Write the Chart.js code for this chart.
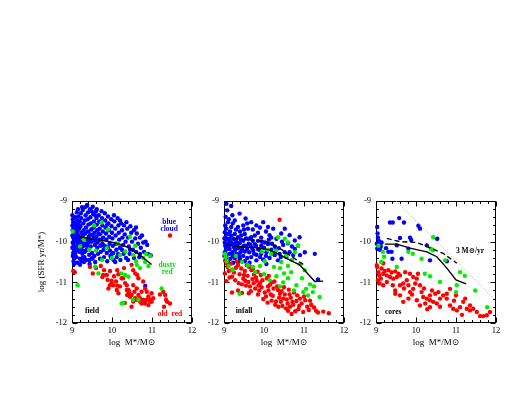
<!DOCTYPE html>
<html><head><meta charset="utf-8">
<script src="https://cdn.jsdelivr.net/npm/chart.js@4"></script>
<style>
html,body{margin:0;padding:0;background:#fff;width:509px;height:393px;overflow:hidden}
canvas{position:absolute}
</style></head>
<body>
<canvas id="c1" width="200" height="170" style="left:0px;top:190px"></canvas>
<canvas id="c2" width="170" height="170" style="left:184px;top:190px"></canvas>
<canvas id="c3" width="170" height="170" style="left:336px;top:190px"></canvas>
<script>
// ---------- tick labels / axes ----------
const xTicks = [9, 10, 11, 12];
const yTicks = [-9, -10, -11, -12];
const xTitle = 'log  M*/M\u2299';
const yTitle = 'log (SFR yr/M*)';

// ---------- FIELD panel ----------
const fieldBlue = [
[9.01,-9.35],[9.02,-9.45],[9.03,-9.52],[9.01,-9.6],[9.04,-9.65],[9.02,-9.72],[9.05,-9.78],[9.01,-9.85],[9.03,-9.9],[9.06,-9.95],
[9.02,-10.02],[9.04,-10.08],[9.01,-10.15],[9.05,-10.2],[9.03,-10.28],[9.02,-10.35],[9.06,-10.4],[9.04,-10.48],[9.08,-9.4],[9.09,-9.55],
[9.07,-9.7],[9.1,-9.8],[9.08,-9.88],[9.09,-10.0],[9.07,-10.12],[9.1,-10.22],[9.08,-10.3],[9.12,-9.28],[9.13,-9.48],[9.11,-9.62],
[9.14,-9.75],[9.12,-9.92],[9.15,-10.05],[9.13,-10.18],[9.11,-10.38],[9.14,-10.52],[9.16,-9.38],[9.17,-9.58],[9.18,-9.68],[9.16,-9.85],
[9.19,-9.98],[9.17,-10.1],[9.18,-10.25],[9.2,-10.42],[9.19,-9.5],[9.22,-9.3],[9.23,-9.42],[9.21,-9.62],[9.24,-9.78],[9.22,-9.9],
[9.25,-10.02],[9.23,-10.15],[9.26,-10.3],[9.24,-10.48],[9.27,-9.22],[9.28,-9.55],[9.29,-9.72],[9.27,-9.85],[9.3,-10.1],[9.28,-10.22],
[9.31,-10.38],[9.33,-9.15],[9.34,-9.35],[9.32,-9.48],[9.35,-9.65],[9.33,-9.8],[9.36,-9.95],[9.34,-10.05],[9.37,-10.2],[9.35,-10.45],
[9.38,-9.1],[9.4,-9.28],[9.39,-9.45],[9.41,-9.58],[9.4,-9.75],[9.42,-9.88],[9.41,-10.02],[9.43,-10.32],[9.44,-10.55],[9.45,-9.2],
[9.46,-9.4],[9.47,-9.55],[9.48,-9.7],[9.46,-9.82],[9.49,-10.0],[9.47,-10.12],[9.5,-10.28],[9.49,-10.42],[9.52,-9.14],[9.53,-9.32],
[9.55,-9.5],[9.54,-9.65],[9.56,-9.78],[9.55,-9.92],[9.57,-10.08],[9.56,-10.35],[9.58,-10.5],[9.6,-9.25],[9.61,-9.42],[9.62,-9.58],
[9.63,-9.72],[9.61,-9.88],[9.64,-10.02],[9.63,-10.15],[9.65,-10.3],[9.62,-9.2],[9.67,-9.35],[9.68,-9.5],[9.69,-9.68],[9.7,-9.82],
[9.68,-9.95],[9.71,-10.1],[9.72,-10.25],[9.7,-10.42],[9.74,-9.25],[9.75,-9.42],[9.76,-9.6],[9.77,-9.75],[9.78,-9.9],[9.76,-10.05],
[9.79,-10.2],[9.8,-10.38],[9.82,-9.3],[9.83,-9.48],[9.84,-9.65],[9.85,-9.8],[9.86,-9.95],[9.84,-10.12],[9.87,-10.28],[9.88,-10.48],
[9.9,-9.38],[9.91,-9.55],[9.92,-9.72],[9.93,-9.88],[9.94,-10.05],[9.95,-10.22],[9.96,-10.35],[9.98,-9.45],[9.99,-9.62],[10.0,-9.78],
[10.01,-9.92],[10.02,-10.1],[10.03,-10.28],[10.04,-10.45],[10.06,-9.5],[10.08,-9.68],[10.09,-9.85],[10.1,-10.05],[10.11,-10.2],[10.12,-10.38],
[10.14,-9.42],[10.16,-9.6],[10.17,-9.78],[10.18,-9.95],[10.2,-10.15],[10.21,-10.45],[10.23,-9.55],[10.25,-9.72],[10.26,-9.9],[10.28,-10.08],
[10.29,-10.3],[10.3,-9.6],[10.32,-9.82],[10.34,-10.0],[10.35,-10.4],[10.38,-9.68],[10.4,-9.9],[10.42,-10.12],[10.44,-10.3],[10.46,-9.62],
[10.48,-9.78],[10.5,-10.0],[10.52,-10.2],[10.55,-9.72],[10.58,-9.92],[10.6,-10.25],[10.62,-9.8],[10.65,-10.05],[10.68,-10.38],[10.7,-9.9],
[10.72,-10.15],[10.75,-9.85],[10.78,-10.02],[10.8,-10.25],[10.84,-10.0],[10.88,-10.08],[10.9,-10.3],[10.97,-10.34],[10.83,-11.09],[10.6,-9.65],
[9.05,-10.55],[9.2,-10.57],[9.43,-10.45],[9.52,-10.4],[9.3,-10.5],[9.98,-10.4],[10.08,-10.5],[10.4,-10.45],[10.55,-10.4],[10.7,-10.3],
[9.15,-9.2],[9.25,-9.15],[9.37,-9.12],[9.49,-9.25],[9.58,-9.35],[9.72,-9.52],[9.88,-9.58],[10.05,-9.35],[10.2,-9.48],[10.36,-9.52],
[9.06,-9.58],[9.09,-9.68],[9.12,-9.82],[9.15,-9.95],[9.18,-10.08],[9.21,-10.2],[9.27,-10.4],[9.32,-10.25],[9.38,-10.1],[9.45,-9.95],
[9.51,-9.85],[9.58,-9.98],[9.66,-9.8],[9.73,-9.95],[9.8,-10.1],[9.9,-10.15],[10.0,-10.3],[10.15,-10.3],[10.25,-10.2],[10.45,-10.2]
];
const fieldGreen = [
[9.02,-9.75],[9.74,-9.53],[9.43,-10.2],[9.6,-10.22],[9.87,-10.16],[10.2,-10.33],[10.45,-9.88],[10.33,-10.24],[10.53,-10.33],[10.62,-10.57],
[10.7,-10.65],[10.83,-10.5],[10.78,-10.4],[10.91,-10.6],[10.33,-10.82],[10.41,-10.86],[10.24,-11.52],[10.52,-11.43],[9.14,-11.07],[9.66,-10.78],
[11.24,-11.15],[9.3,-9.95],[9.55,-9.6],[10.0,-10.4],[10.15,-10.05],[9.75,-10.45],[10.58,-10.1],[10.95,-10.35],[10.24,-10.78],[10.66,-11.43],
[9.58,-10.61],[10.28,-11.51],[9.2,-10.12],[9.9,-9.7],[10.6,-10.48],[10.85,-10.3]
];
const fieldRed = [
[9.03,-10.72],[9.07,-10.75],[9.52,-10.78],[9.72,-10.6],[9.76,-10.87],[9.87,-10.82],[9.89,-10.94],[9.99,-10.96],[10.03,-11.07],[9.95,-11.07],
[10.1,-10.98],[10.13,-11.08],[10.2,-11.1],[10.13,-10.7],[10.16,-10.8],[10.24,-10.9],[10.28,-10.9],[10.33,-11.02],[10.37,-11.07],[10.41,-11.19],
[10.43,-11.23],[10.38,-11.31],[10.45,-11.35],[10.53,-11.07],[10.56,-11.23],[10.62,-11.15],[10.66,-11.31],[10.7,-11.39],[10.74,-11.23],[10.49,-10.57],
[10.53,-10.7],[10.58,-10.78],[10.63,-10.82],[10.66,-10.9],[10.78,-10.98],[10.83,-11.15],[10.87,-11.23],[10.91,-11.35],[10.95,-11.43],[10.99,-11.48],
[11.03,-11.39],[10.99,-11.27],[10.78,-11.43],[10.83,-11.52],[10.74,-11.52],[10.49,-11.31],[10.58,-11.39],[10.62,-11.43],[11.28,-11.23],[11.33,-11.31],
[11.35,-11.43],[11.38,-11.48],[11.45,-11.52],[11.45,-9.85],[9.78,-10.82],[9.99,-11.02],[9.91,-11.15],[10.12,-11.19],[10.16,-11.27],[10.37,-11.19],
[10.41,-11.27],[10.45,-11.35],[10.53,-11.47],[10.62,-11.43],[10.7,-11.47],[10.87,-11.43],[10.82,-11.51],[10.91,-11.56],[10.95,-11.47],[10.32,-11.51],
[10.49,-11.6],[9.6,-10.65],[9.8,-10.7],[9.95,-10.72],[9.45,-10.62],[10.05,-10.85],[10.3,-10.65],[11.3,-11.6],[11.2,-11.3]
];
const fieldSolidX = [9.2, 9.6, 9.95, 10.2, 10.45, 10.7, 10.99];
const fieldSolidY = [-9.88, -9.95, -10.0, -10.07, -10.16, -10.33, -10.56];

// ---------- INFALL panel ----------
const infallBlue = [
[9.06,-9.07],[9.18,-9.12],[9.08,-9.23],[9.21,-9.35],[9.04,-9.39],[9.39,-9.31],[9.27,-9.48],[9.1,-9.52],[9.54,-9.43],[9.68,-9.52],
[9.81,-9.6],[9.6,-9.68],[9.48,-9.6],[9.35,-9.64],[9.18,-9.64],[9.06,-9.68],[9.98,-9.52],[10.1,-9.64],[10.23,-9.68],[10.52,-9.68],
[10.43,-9.8],[10.64,-9.84],[10.89,-9.89],[10.77,-9.97],[10.14,-9.84],[10.31,-9.93],[11.27,-10.3],[11.35,-10.93],
[9.02,-9.77],[9.1,-9.81],[9.18,-9.85],[9.27,-9.81],[9.04,-9.89],[9.13,-9.93],[9.23,-9.93],[9.35,-9.89],[9.43,-9.85],[9.52,-9.81],
[9.02,-10.02],[9.1,-10.06],[9.18,-10.02],[9.31,-10.0],[9.39,-10.04],[9.48,-9.98],[9.6,-9.93],[9.68,-9.89],[9.77,-9.85],[9.06,-10.14],
[9.14,-10.18],[9.25,-10.14],[9.35,-10.16],[9.46,-10.14],[9.56,-10.1],[9.66,-10.08],[9.77,-10.06],[9.85,-9.98],[9.93,-9.9],[9.02,-10.26],
[9.13,-10.3],[9.21,-10.26],[9.31,-10.3],[9.41,-10.26],[9.52,-10.24],[9.63,-10.26],[9.73,-10.22],[9.85,-10.18],[9.93,-10.1],[10.02,-10.02],
[10.1,-10.06],[9.06,-10.38],[9.16,-10.42],[9.27,-10.4],[9.38,-10.38],[9.48,-10.35],[9.58,-10.4],[9.68,-10.38],[9.81,-10.32],[9.93,-10.3],
[10.06,-10.26],[10.18,-10.2],[10.27,-10.12],[10.37,-10.16],[10.48,-10.08],[10.6,-10.04],[10.7,-10.12],[9.1,-10.5],[9.23,-10.52],[9.35,-10.5],
[9.52,-10.48],[9.64,-10.52],[9.81,-10.46],[9.98,-10.44],[10.14,-10.4],[10.27,-10.33],[10.39,-10.3],[10.52,-10.26],[10.64,-10.26],[10.77,-10.18],
[10.85,-10.1],[11.02,-10.26],[10.06,-10.55],[10.35,-10.46],[10.56,-10.38],[10.73,-10.33],[10.9,-10.33],
[9.01,-9.92],[9.03,-10.1],[9.01,-10.35],[9.05,-10.2],[9.08,-9.95],[9.12,-10.1],[9.15,-9.75],[9.2,-10.07],[9.22,-10.35],[9.28,-10.2],
[9.3,-9.95],[9.33,-10.08],[9.37,-10.33],[9.42,-9.95],[9.45,-10.2],[9.5,-10.1],[9.55,-9.92],[9.58,-10.18],[9.62,-10.05],[9.7,-10.15],
[9.72,-9.98],[9.75,-10.3],[9.8,-10.1],[9.88,-10.2],[9.9,-10.38],[9.95,-10.0],[10.0,-10.15],[10.05,-10.35],[10.12,-9.95],[10.2,-10.05],
[10.22,-10.3],[10.3,-10.2],[10.42,-10.38],[10.45,-10.0],[9.03,-9.6],[9.12,-9.45],[9.22,-9.55],[9.3,-9.7],[9.4,-9.75],[9.5,-9.7],
[9.58,-9.55],[9.72,-9.7],[9.85,-9.78],[9.9,-9.65],[10.05,-9.75],[10.18,-9.9],[9.04,-10.45],[9.14,-9.98],[9.26,-10.05],[9.4,-10.42]
];
const infallGreen = [
[9.02,-10.3],[9.04,-10.38],[9.07,-10.48],[9.22,-10.7],[9.39,-11.28],[9.6,-10.58],[9.72,-10.62],[9.9,-10.6],[10.02,-10.48],[10.18,-10.3],
[10.3,-10.22],[10.35,-9.89],[10.52,-9.93],[10.6,-10.02],[10.85,-10.1],[10.77,-10.26],[10.43,-10.5],[10.6,-10.6],[10.68,-10.75],[10.6,-10.9],
[10.81,-11.07],[10.98,-11.24],[11.1,-11.32],[11.39,-11.36],[11.22,-11.24],[11.05,-11.16],[10.31,-10.85],[10.48,-11.0],[10.14,-10.95],[10.9,-10.55],
[11.02,-10.7],[10.25,-10.62],[10.5,-10.78],[10.7,-10.45],[9.45,-10.5],[9.78,-10.75],[10.0,-10.8],[10.4,-11.1],[10.75,-11.2],[10.95,-10.9],
[11.15,-11.05],[10.1,-10.2],[9.95,-10.25],[10.55,-10.35],[9.3,-10.35],[9.12,-10.6],[10.4,-10.65],[11.25,-11.1]
];
const infallRed = [
[9.03,-10.47],[9.21,-10.69],[9.09,-10.62],[9.35,-10.58],[9.14,-10.88],[9.02,-10.78],[9.28,-10.95],[9.17,-10.54],[9.39,-10.8],[9.06,-10.97],
[9.25,-10.76],[9.32,-10.49],[9.12,-10.72],[9.37,-11.02],[9.2,-10.86],
[9.43,-10.66],[9.71,-10.92],[9.55,-11.08],[9.84,-10.74],[9.48,-10.91],[9.63,-10.62],[9.78,-11.15],[9.59,-10.84],[9.9,-11.02],[9.52,-10.72],
[9.67,-11.22],[9.75,-10.81],[9.45,-11.05],[9.82,-10.96],[9.61,-10.99],[9.88,-11.2],[9.69,-10.7],[9.57,-10.58],[9.8,-10.88],[9.65,-11.1],
[9.73,-10.65],[9.86,-11.08],[9.5,-10.82],
[9.94,-11.12],[10.22,-11.33],[10.07,-10.9],[10.35,-11.19],[9.98,-11.41],[10.15,-11.06],[10.3,-11.47],[10.02,-11.25],[10.26,-10.98],[10.38,-11.38],
[10.11,-11.2],[10.19,-11.45],[9.96,-10.95],[10.33,-11.1],[10.05,-11.35],[10.24,-11.15],[10.12,-10.84],[10.4,-11.28],[10.17,-11.3],[10.28,-11.55],
[10.09,-11.5],
[10.44,-11.22],[10.71,-11.48],[10.55,-11.64],[10.83,-11.32],[10.48,-11.4],[10.62,-11.18],[10.78,-11.71],[10.59,-11.52],[10.88,-11.58],[10.52,-11.3],
[10.67,-11.38],[10.75,-11.25],[10.46,-11.58],[10.81,-11.46],[10.6,-11.7],[10.86,-11.66],[10.65,-11.6],[10.5,-11.12],[10.73,-11.55],[10.42,-11.48],
[10.57,-11.42],[10.69,-11.78],
[10.94,-11.52],[11.12,-11.68],[11.03,-11.44],[11.25,-11.62],[10.98,-11.73],[11.18,-11.55],[11.35,-11.74],[11.08,-11.6],[11.48,-11.72],[11.62,-11.76],
[11.3,-11.7],[11.0,-11.35],
[10.39,-9.46],[9.2,-11.25],[9.45,-11.26],[9.62,-11.27],[9.35,-11.2],[9.08,-10.55],[9.3,-10.64],[9.74,-11.02],[9.92,-10.82],[10.2,-11.0],
[10.36,-11.6],[10.1,-11.1],[9.53,-10.96],[9.85,-11.3],[10.64,-11.3],[10.9,-11.4],[11.15,-11.45]
];
const infallSolidX = [9.04, 9.39, 9.89, 10.14, 10.39, 10.64, 10.89, 11.27, 11.48];
const infallSolidY = [-10.08, -10.12, -10.16, -10.2, -10.32, -10.45, -10.57, -10.98, -10.97];
const infallDashX = [9.23, 9.6, 9.98, 10.2, 10.39, 10.64, 10.98];
const infallDashY = [-9.92, -9.95, -9.98, -10.05, -10.16, -10.33, -10.56];

// ---------- CORES panel ----------
const coresBlue = [
[9.03,-9.64],[9.05,-9.9],[9.07,-9.98],[9.1,-10.06],[9.14,-10.02],[9.03,-10.17],[9.1,-10.2],[9.25,-10.16],[9.35,-9.53],[9.42,-9.53],
[9.58,-9.42],[9.7,-9.53],[9.6,-9.91],[9.52,-10.09],[9.41,-10.42],[9.39,-10.25],[9.31,-10.25],[9.85,-9.9],[9.88,-9.96],[9.81,-10.17],
[9.64,-10.42],[10.06,-9.61],[10.1,-9.68],[10.27,-10.09],[10.53,-9.93],[10.35,-10.46],[10.77,-10.48],[9.02,-10.05],[9.04,-9.8],[9.12,-10.12]
];
const coresGreen = [
[9.17,-10.25],[9.2,-10.37],[9.13,-10.5],[9.52,-10.62],[9.81,-10.25],[9.92,-10.3],[10.14,-10.42],[10.37,-10.17],[10.42,-10.21],[10.43,-9.89],
[10.73,-10.46],[11.1,-10.75],[11.22,-10.84],[11.02,-11.07],[11.0,-11.24],[10.6,-10.99],[10.22,-10.79],[10.35,-10.85],[11.48,-11.2],[11.78,-11.61],
[9.06,-10.1]
];
const coresRed = [
[9.03,-10.62],[9.06,-10.75],[9.08,-10.83],[9.12,-10.91],[9.18,-10.79],[9.27,-10.83],[9.35,-10.87],[9.43,-10.91],[9.52,-10.87],[9.6,-10.83],
[9.08,-11.03],[9.18,-11.07],[9.27,-10.99],[9.42,-11.07],[9.48,-11.2],[9.6,-11.07],[9.68,-11.03],[9.77,-10.95],[9.81,-11.07],[9.85,-11.24],
[9.93,-11.16],[9.98,-11.03],[10.02,-10.91],[10.1,-11.07],[10.14,-11.24],[10.18,-11.36],[10.27,-11.4],[10.35,-11.44],[10.43,-11.48],[10.52,-11.52],
[10.6,-11.4],[10.68,-11.32],[10.77,-11.4],[10.85,-11.57],[10.93,-11.65],[11.02,-11.69],[11.1,-11.61],[11.18,-11.48],[11.27,-11.65],[11.35,-11.69],
[11.43,-11.65],[11.52,-11.73],[11.6,-11.83],[11.68,-11.83],[11.77,-11.81],[11.85,-11.73],[9.68,-11.48],[9.6,-11.32],[9.48,-11.28],[9.81,-11.4],
[10.02,-11.44],[10.1,-11.57],[10.23,-11.52],[10.35,-11.32],[10.48,-11.28],[10.56,-11.24],[10.77,-11.28],[10.85,-11.16],[11.0,-11.32],[11.23,-11.4],
[11.35,-11.57],[10.35,-11.61],[10.28,-11.66],[9.02,-10.58],[9.14,-10.66],[9.22,-10.72],[9.31,-10.7],[9.39,-10.76],[9.48,-10.73],[9.56,-10.79],
[9.73,-10.75],[9.85,-10.79],[9.93,-10.87],[10.05,-10.79],[9.18,-10.53],[9.05,-10.95],[9.7,-11.15],[9.9,-11.3],[10.2,-11.15],[10.4,-11.2],
[10.6,-11.6],[10.95,-11.45],[11.15,-11.8]
];
const coresSolidX = [9.22, 9.52, 9.85, 10.27, 10.52, 10.77, 11.0, 11.25];
const coresSolidY = [-10.06, -10.06, -10.16, -10.25, -10.37, -10.65, -10.94, -11.04];
const coresDashX = [9.27, 9.6, 10.02, 10.35, 10.68, 11.02];
const coresDashY = [-9.92, -10.0, -10.02, -10.15, -10.29, -10.53];
const coresDotX = [9.5, 12.0];
const coresDotY = [-9.0, -11.45];

// ---------- annotation texts ----------
const fieldNotes = [
  {text:'blue', x:11.43, y:-9.51, color:'#0000ff'},
  {text:'cloud', x:11.43, y:-9.70, color:'#0000ff'},
  {text:'dusty', x:11.38, y:-10.57, color:'#00e000'},
  {text:'red', x:11.38, y:-10.75, color:'#00e000'},
  {text:'old  red', x:11.45, y:-11.78, color:'#ff0000'},
  {text:'field', x:9.5, y:-11.7, color:'#000'}
];
const infallNotes = [{text:'infall', x:9.5, y:-11.7, color:'#000'}];
const coresNotes = [
  {text:'cores', x:9.43, y:-11.72, color:'#000'},
  {text:'3 M\u2299/yr', x:11.35, y:-10.23, color:'#000'}
];

// ---------- helpers ----------
const FONT = "'Liberation Serif', 'DejaVu Serif', serif";
const pts = a => a.map(p => ({x:p[0], y:p[1]}));
const line = (xs, ys) => xs.map((x, i) => ({x, y: ys[i]}));

const framePlugin = {
  id:'frame',
  beforeDatasetsDraw(chart) {
    const {ctx, chartArea:a, scales:{x, y}} = chart;
    ctx.save();
    ctx.strokeStyle = '#000';
    ctx.lineWidth = 1;
    const L = Math.round(a.left) + 0.5, R = Math.round(a.right) - 0.5;
    const T = Math.round(a.top) + 0.5, B = Math.round(a.bottom) - 0.5;
    ctx.strokeRect(L, T, R - L, B - T);
    ctx.beginPath();
    for (let i = 0; i <= 15; i++) {
      const v = 9 + i * 0.2;
      const px = Math.round(x.getPixelForValue(v)) + 0.5;
      const len = (i % 5 === 0) ? 5 : 2.5;
      ctx.moveTo(px, B); ctx.lineTo(px, B - len);
      ctx.moveTo(px, T); ctx.lineTo(px, T + len);
    }
    for (let i = 0; i <= 15; i++) {
      const v = -12 + i * 0.2;
      const py = Math.round(y.getPixelForValue(v)) + 0.5;
      const len = (i % 5 === 0) ? 5 : 2.5;
      ctx.moveTo(L, py); ctx.lineTo(L + len, py);
      ctx.moveTo(R, py); ctx.lineTo(R - len, py);
    }
    ctx.stroke();
    ctx.restore();
  }
};

const notesPlugin = {
  id:'notes',
  afterDatasetsDraw(chart, args, opts) {
    const {ctx, scales:{x, y}} = chart;
    ctx.save();
    ctx.font = "bold 7.5px " + FONT;
    ctx.textAlign = 'center';
    ctx.textBaseline = 'middle';
    (opts.items || []).forEach(n => {
      ctx.fillStyle = n.color;
      ctx.fillText(n.text, x.getPixelForValue(n.x), y.getPixelForValue(n.y));
    });
    ctx.restore();
  }
};

function scatterSet(data, color, order) {
  return {data: pts(data), backgroundColor: color, borderColor: color, pointRadius: 2.2,
          borderWidth: 0, showLine: false, order, clip: false};
}
function lineSet(data, dash, color, width) {
  return {data, showLine: true, pointRadius: 0, borderColor: color, borderWidth: width,
          borderDash: dash, tension: 0, order: 0, clip: false};
}

const hiddenGrid = {display: true, drawOnChartArea: false, drawTicks: false, lineWidth: 0};

function makeChart(id, padLeft, yWidth, padRight, datasets, showYTitle, notes) {
  return new Chart(document.getElementById(id), {
    type: 'scatter',
    data: {datasets},
    options: {
      responsive: false, animation: false, events: [],
      layout: {padding: {top: 11, right: padRight, left: padLeft, bottom: 0}},
      plugins: {legend: {display: false}, tooltip: {enabled: false}, notes: {items: notes}},
      scales: {
        x: {
          type: 'linear', min: 9, max: 12,
          afterBuildTicks: s => { s.ticks = xTicks.map(v => ({value: v})); },
          afterFit: s => { s.height = 37; },
          grid: hiddenGrid, border: {display: false},
          ticks: {color: '#000', font: {family: FONT, size: 8.5}, padding: 3, maxRotation: 0,
                  callback: v => String(v)},
          title: {display: true, text: xTitle, color: '#000', font: {family: FONT, size: 9},
                  padding: {top: 2, bottom: 12}}
        },
        y: {
          type: 'linear', min: -12, max: -9,
          afterBuildTicks: s => { s.ticks = yTicks.map(v => ({value: v})); },
          afterFit: s => { s.width = yWidth; },
          grid: hiddenGrid, border: {display: false},
          ticks: {color: '#000', font: {family: FONT, size: 8.5}, padding: 5,
                  callback: v => String(v)},
          title: {display: showYTitle, text: yTitle, color: '#000', font: {family: FONT, size: 9},
                  padding: {top: 0, bottom: 0}}
        }
      }
    },
    plugins: [framePlugin, notesPlugin]
  });
}

makeChart('c1', 36, 36, 8, [
  lineSet(line(fieldSolidX, fieldSolidY), [], '#000', 1.4),
  scatterSet(fieldGreen, '#00ee00', 1),
  scatterSet(fieldRed, '#ff0000', 2),
  scatterSet(fieldBlue, '#0000ff', 3)
], true, fieldNotes);

makeChart('c2', 0, 40, 10, [
  lineSet(line(infallSolidX, infallSolidY), [], '#000', 1.4),
  lineSet(line(infallDashX, infallDashY), [5, 3], '#000', 1.4),
  scatterSet(infallGreen, '#00ee00', 1),
  scatterSet(infallRed, '#ff0000', 2),
  scatterSet(infallBlue, '#0000ff', 3)
], false, infallNotes);

makeChart('c3', 0, 40, 10, [
  lineSet(line(coresSolidX, coresSolidY), [], '#000', 1.4),
  lineSet(line(coresDashX, coresDashY), [5, 3], '#000', 1.4),
  lineSet(line(coresDotX, coresDotY), [1, 2], '#999', 1),
  scatterSet(coresGreen, '#00ee00', 1),
  scatterSet(coresRed, '#ff0000', 2),
  scatterSet(coresBlue, '#0000ff', 3)
], false, coresNotes);
</script>
</body></html>
